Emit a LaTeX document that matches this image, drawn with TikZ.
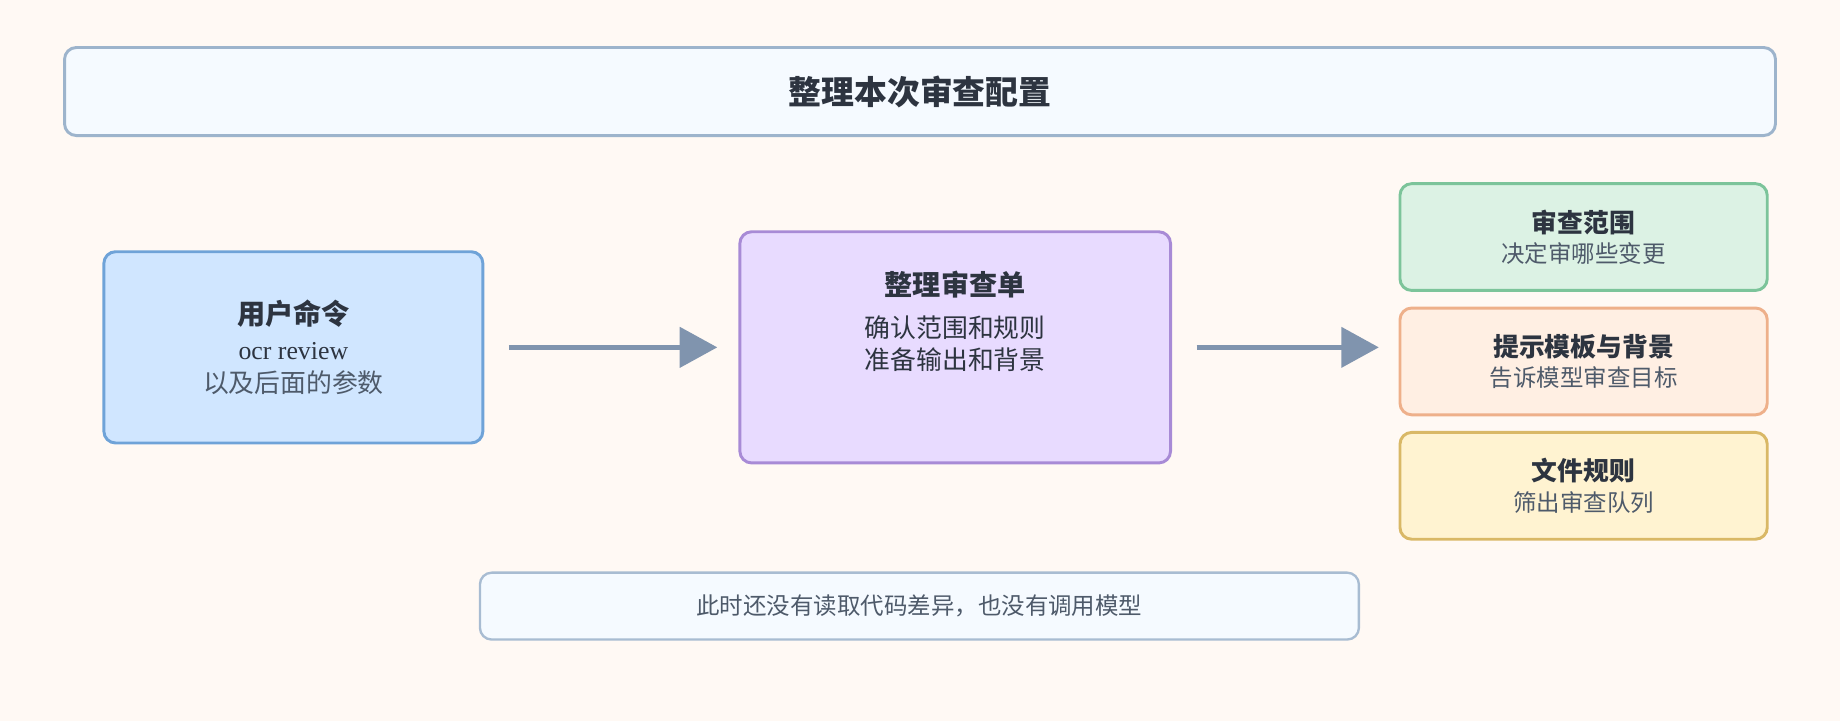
\documentclass[tikz,border=0pt]{standalone}
\usepackage{fontspec}
\newfontfamily\cjk{Noto Sans CJK SC}
\setmainfont{Liberation Serif}
\usetikzlibrary{arrows.meta}
\definecolor{bgcol}{HTML}{FFF9F4}
\definecolor{txt}{HTML}{2D3440}
\definecolor{subtxt}{HTML}{4E5A6A}
\definecolor{arrcol}{HTML}{8094AE}
\definecolor{topdraw}{HTML}{9DB4CC}
\definecolor{topfill}{HTML}{F5FAFF}
\definecolor{cmddraw}{HTML}{6FA3D8}
\definecolor{cmdfill}{HTML}{D0E6FF}
\definecolor{sheetdraw}{HTML}{A88BD6}
\definecolor{sheetfill}{HTML}{E8DBFF}
\definecolor{greendraw}{HTML}{7CC49A}
\definecolor{greenfill}{HTML}{DCF2E4}
\definecolor{orangedraw}{HTML}{EEB08A}
\definecolor{orangefill}{HTML}{FFEFE3}
\definecolor{yellowdraw}{HTML}{D9B866}
\definecolor{yellowfill}{HTML}{FFF3D1}
\definecolor{notedraw}{HTML}{A8BCD2}
\tikzset{
  box/.style={draw, line width=2.5pt, rounded corners=10pt, inner sep=0pt, align=center},
  side/.style={box, minimum width=313pt, minimum height=91pt},
  flow/.style={draw=arrcol, line width=4pt, -{Triangle[length=32pt,width=34pt]}}
}
\newcommand{\ttl}[1]{{\cjk\bfseries\fontsize{22}{26}\selectfont\color{txt}#1}}
\newcommand{\subt}[1]{{\cjk\fontsize{20}{24}\selectfont\color{subtxt}#1}}
\begin{document}
\begin{tikzpicture}[x=1pt,y=-1pt]
  \fill[bgcol] (0,0) rectangle (1568,614);
  % title bar
  \node[box, draw=topdraw, fill=topfill, minimum width=1458pt, minimum height=75pt] (top) at (784,78)
    {\cjk\bfseries\fontsize{28}{32}\selectfont\color{txt}整理本次审查配置};
  % left: command
  \node[box, draw=cmddraw, fill=cmdfill, minimum width=323pt, minimum height=163pt] (cmd) at (250,296)
    {{\cjk\bfseries\fontsize{24}{28}\selectfont\color{txt}用户命令}\\[12pt]
     {\fontsize{22}{26}\selectfont\color{txt}ocr review}\\[8pt]
     {\cjk\fontsize{22}{26}\selectfont\color{subtxt}以及后面的参数}};
  % middle: review sheet
  \node[box, draw=sheetdraw, fill=sheetfill, minimum width=367pt, minimum height=197pt] (sheet) at (814,296)
    {{\cjk\bfseries\fontsize{24}{28}\selectfont\color{txt}整理审查单}\\[14pt]
     {\cjk\fontsize{22}{26}\selectfont\color{txt}确认范围和规则}\\[6pt]
     {\cjk\fontsize{22}{26}\selectfont\color{txt}准备输出和背景}\\[34pt]};
  % right column
  \node[side, draw=greendraw, fill=greenfill] (scope) at (1349.5,202)
    {\ttl{审查范围}\\[6pt]\subt{决定审哪些变更}};
  \node[side, draw=orangedraw, fill=orangefill] (prompt) at (1349.5,308)
    {\ttl{提示模板与背景}\\[6pt]\subt{告诉模型审查目标}};
  \node[side, draw=yellowdraw, fill=yellowfill] (rules) at (1349.5,414)
    {\ttl{文件规则}\\[6pt]\subt{筛出审查队列}};
  % note
  \node[box, line width=2pt, draw=notedraw, fill=topfill, minimum width=749pt, minimum height=57pt] (note) at (783.5,516.5)
    {\subt{此时还没有读取代码差异，也没有调用模型}};
  % arrows
  \coordinate (a1) at (1175,296);
  \draw[flow] ([xshift=21pt]cmd.east) -- ([xshift=-18pt]sheet.west);
  \draw[flow] ([xshift=21pt]sheet.east) -- (a1);
\end{tikzpicture}
\end{document}
